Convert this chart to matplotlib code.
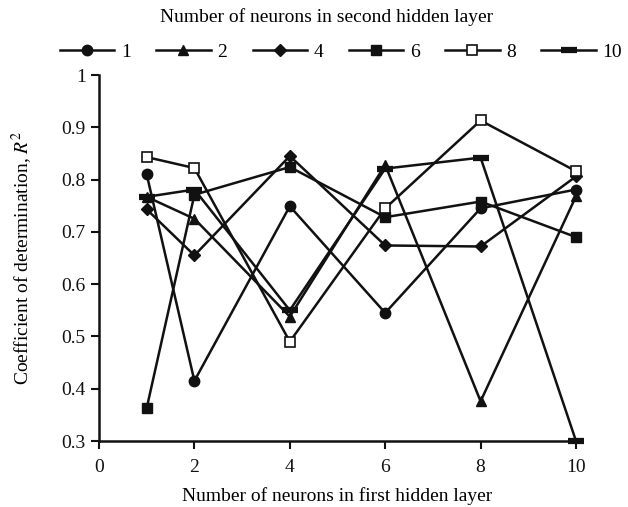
import numpy as np
import matplotlib.pyplot as plt

plt.rcParams['font.family'] = ['Liberation Serif', 'DejaVu Serif']
plt.rcParams['mathtext.fontset'] = 'stix'

# 첫 번째 은닉층 뉴런 수
first_layer = [1, 2, 4, 6, 8, 10]

# 두 번째 은닉층 뉴런 수별 R^2
r2_n1 = [0.810, 0.415, 0.749, 0.545, 0.745, 0.781]
r2_n2 = [0.767, 0.725, 0.538, 0.828, 0.376, 0.768]
r2_n4 = [0.743, 0.655, 0.845, 0.674, 0.672, 0.806]
r2_n6 = [0.363, 0.771, 0.824, 0.728, 0.758, 0.690]
r2_n8 = [0.843, 0.822, 0.490, 0.745, 0.913, 0.816]
r2_n10 = [0.767, 0.781, 0.550, 0.821, 0.842, 0.300]

x_ticks = [0, 2, 4, 6, 8, 10]
y_ticks = [0.3, 0.4, 0.5, 0.6, 0.7, 0.8, 0.9, 1.0]
y_tick_labels = ['0.3', '0.4', '0.5', '0.6', '0.7', '0.8', '0.9', '1']

fig = plt.figure(figsize=(6.28, 5.07), dpi=100)
ax = fig.add_axes([99/628, 1-441/507, 477/628, 366/507])

lw = 1.8
kw = dict(color='#111111', linewidth=lw, clip_on=False)
ax.plot(first_layer, r2_n1, marker='o', markersize=7.5, label='1', **kw)
ax.plot(first_layer, r2_n2, marker='^', markersize=7.5, label='2', **kw)
ax.plot(first_layer, r2_n4, marker='D', markersize=6, label='4', **kw)
ax.plot(first_layer, r2_n6, marker='s', markersize=6.5, label='6', **kw)
ax.plot(first_layer, r2_n8, marker='s', markersize=6.5, markerfacecolor='white',
        markeredgewidth=1.2, label='8', **kw)
ax.plot(first_layer, r2_n10, marker='_', markersize=11, markeredgewidth=4.5, label='10', **kw)

ax.set_xlim(0, 10)
ax.set_ylim(0.3, 1.0)
ax.set_xticks(x_ticks)
ax.set_yticks(y_ticks)
ax.set_yticklabels(y_tick_labels)
ax.tick_params(direction='out', length=6, width=1.5, labelsize=14, colors='#111111')
ax.tick_params(axis='x', pad=7)
for s in ['top', 'right']:
    ax.spines[s].set_visible(False)
for s in ['left', 'bottom']:
    ax.spines[s].set_linewidth(1.8)
    ax.spines[s].set_color('#111111')

ax.set_xlabel('Number of neurons in first hidden layer', fontsize=14, labelpad=8)
ax.set_ylabel('Coefficient of determination, $R^2$', fontsize=14, labelpad=20)

fig.text(327/628, 1-17/507, 'Number of neurons in second hidden layer',
         ha='center', va='center', fontsize=14)
fig.legend(loc='center', bbox_to_anchor=(341/628, 1-52/507), ncol=6, frameon=False,
           fontsize=14, handlelength=2.8, handletextpad=0.35, columnspacing=1.3,
           borderpad=0, borderaxespad=0)

fig.savefig('out.png', dpi=100)
